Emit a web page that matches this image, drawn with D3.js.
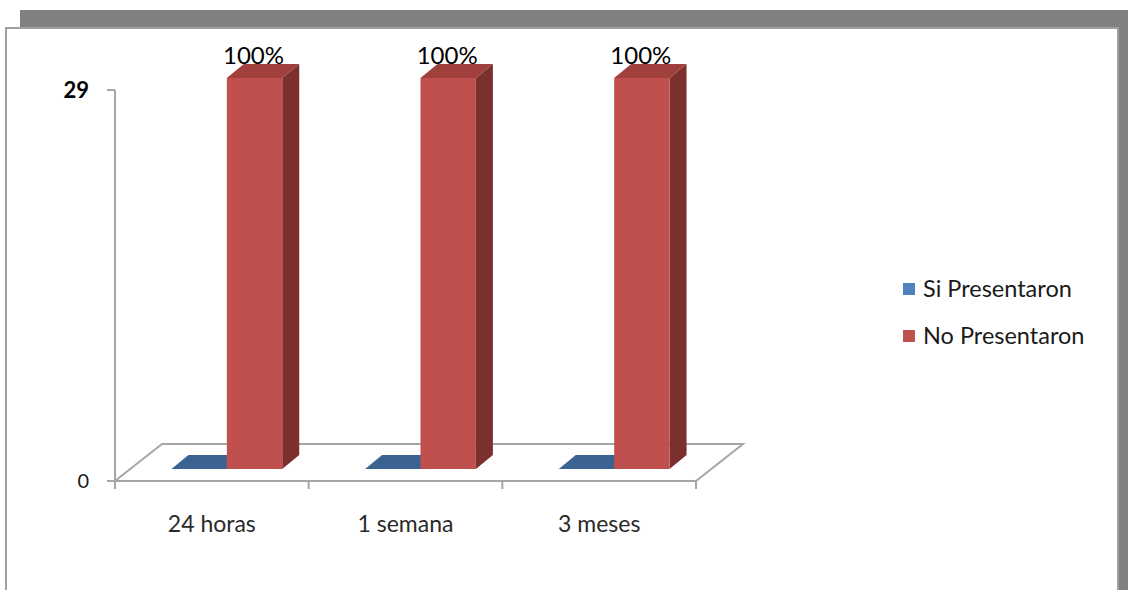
<!DOCTYPE html>
<html>
<head>
<meta charset="utf-8">
<script src="https://cdn.jsdelivr.net/npm/d3@7/dist/d3.min.js"></script>
<style>
  html, body { margin: 0; padding: 0; background: #fff; }
  svg { display: block; }
  text { font-family: Lato, "Open Sans", sans-serif; fill: #1a1a1a; }
</style>
</head>
<body>
<svg id="chart" width="1128" height="590"></svg>
<script>
// Chart data
const categories = ["24 horas", "1 semana", "3 meses"];
const seriesNames = ["Si Presentaron", "No Presentaron"];
const siValues = [0, 0, 0];
const noValues = [29, 29, 29];
const yTicks = [0, 29];

const seriesColors = {
  "Si Presentaron": { front: "#4f81bd", top: "#3b6392", side: "#2f4f75" },
  "No Presentaron": { front: "#c0504d", top: "#a0403d", side: "#7c302e" }
};

const svg = d3.select("#chart");

// Frame: shadow strips and bordered panel
svg.append("rect").attr("x", 20).attr("y", 10).attr("width", 1108).attr("height", 18).attr("fill", "#808080");
svg.append("rect").attr("x", 1119).attr("y", 10).attr("width", 9).attr("height", 580).attr("fill", "#808080");
svg.append("rect").attr("x", 6).attr("y", 28).attr("width", 1112).attr("height", 580)
  .attr("fill", "#fff").attr("stroke", "#a0a0a0").attr("stroke-width", 2);

// Plot geometry
const plotLeft = 115, plotRight = 696, floorY = 481, topY = 90;
const depthX = 47, depthY = -37;           // floor depth
const barOffX = 15, barOffY = -12;         // bar front plane inside the floor
const barDepX = 17, barDepY = -14;         // bar thickness

const x = d3.scaleBand().domain(categories).range([plotLeft, plotRight]).padding(0);
const y = d3.scaleLinear().domain([0, d3.max(yTicks)]).range([floorY, topY]);
const inner = d3.scaleBand().domain(seriesNames).range([0, x.bandwidth()])
  .paddingInner(0).paddingOuter(0.748);

const grid = "#a6a6a6";

// Floor
const floor = [
  [plotLeft, floorY], [plotRight, floorY],
  [plotRight + depthX, floorY + depthY], [plotLeft + depthX, floorY + depthY]
];
svg.append("polygon").attr("points", floor.map(p => p.join(",")).join(" "))
  .attr("fill", "none").attr("stroke", grid).attr("stroke-width", 2);

// Y axis
svg.append("line").attr("x1", plotLeft).attr("x2", plotLeft)
  .attr("y1", y(29)).attr("y2", y(0)).attr("stroke", grid).attr("stroke-width", 2);
svg.selectAll(".ytick").data(yTicks).enter().append("line")
  .attr("x1", plotLeft - 8).attr("x2", plotLeft)
  .attr("y1", d => y(d)).attr("y2", d => y(d))
  .attr("stroke", grid).attr("stroke-width", 2);
svg.selectAll(".ylab").data(yTicks).enter().append("text")
  .attr("x", plotLeft - 26).attr("y", d => y(d))
  .attr("dy", "0.36em").attr("text-anchor", "end")
  .attr("font-size", d => d === 0 ? 20 : 22)
  .attr("font-weight", d => d === 0 ? "normal" : "bold")
  .style("fill", d => d === 0 ? "#1a1a1a" : "#000")
  .text(d => d);

// X axis ticks and labels
const xTickPos = categories.map(c => x(c)).concat([plotRight]);
svg.selectAll(".xtick").data(xTickPos).enter().append("line")
  .attr("x1", d => d).attr("x2", d => d)
  .attr("y1", floorY).attr("y2", floorY + 8)
  .attr("stroke", grid).attr("stroke-width", 2);
svg.selectAll(".xlab").data(categories).enter().append("text")
  .attr("x", d => x(d) + x.bandwidth() / 2).attr("y", 524)
  .attr("dy", "0.36em").attr("text-anchor", "middle")
  .attr("font-size", 23).style("fill", "#2a2a2a")
  .text(d => d);

// 3D bars
function drawBar(g, cat, name, value) {
  const c = seriesColors[name];
  const x0 = x(cat) + inner(name) + barOffX;
  const x1 = x0 + inner.bandwidth();
  const yb = y(0) + barOffY;
  const yt = y(value) + barOffY;
  const pts = a => a.map(p => p.join(",")).join(" ");
  if (yb - yt > 0) {
    g.append("polygon").attr("fill", c.side)
      .attr("points", pts([[x1, yb], [x1 + barDepX, yb + barDepY], [x1 + barDepX, yt + barDepY], [x1, yt]]));
    g.append("rect").attr("x", x0).attr("y", yt).attr("width", x1 - x0).attr("height", yb - yt)
      .attr("fill", c.front);
  }
  g.append("polygon").attr("fill", c.top)
    .attr("points", pts([[x0, yt], [x1, yt], [x1 + barDepX, yt + barDepY], [x0 + barDepX, yt + barDepY]]));
}

const bars = svg.append("g");
categories.forEach((cat, i) => {
  drawBar(bars, cat, "Si Presentaron", siValues[i]);
  drawBar(bars, cat, "No Presentaron", noValues[i]);
});

// Percentage labels above the "No Presentaron" bars
svg.selectAll(".pct").data(categories).enter().append("text")
  .attr("x", (d) => x(d) + inner("No Presentaron") + barOffX + inner.bandwidth() / 2 - 1)
  .attr("y", (d, i) => y(noValues[i]) + barOffY - 14)
  .attr("text-anchor", "middle").attr("font-size", 24).style("fill", "#000")
  .text((d, i) => Math.round(noValues[i] / (noValues[i] + siValues[i]) * 100) + "%");

// Legend
const legend = svg.append("g");
seriesNames.forEach((name, i) => {
  const ly = 289 + i * 47;
  legend.append("rect").attr("x", 903).attr("y", ly - 6).attr("width", 12).attr("height", 12)
    .attr("fill", seriesColors[name].front);
  legend.append("text").attr("x", 923).attr("y", ly).attr("dy", "0.36em")
    .attr("font-size", 23.5).style("fill", "#1a1a1a").text(name);
});
</script>
</body>
</html>
